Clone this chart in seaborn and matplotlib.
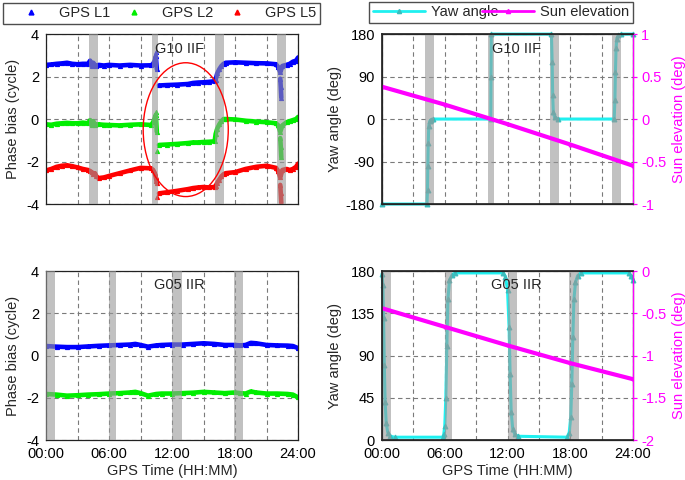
import matplotlib.pyplot as plt
import numpy as np
import pandas as pd
import seaborn as sns
from matplotlib.lines import Line2D
from matplotlib.patches import Ellipse

nan = np.nan

# G10 IIF phase bias (cycle); nan in the time list marks a break between arcs
g10_time = [0, 0.5, 1, 1.5, 2, 2.5, 3, 3.5, 4.0,
            4.2, 4.35, 4.5, 4.65, 4.8,
            5.0, 5.5, 6, 7, 8, 9, 10,
            10.2, 10.35, 10.45, 10.55, nan, 10.5, nan, 10.6, nan,
            10.75, 11.5, 12.5, 13.5, 14, 14.5, 15, 15.5, 16.05,
            16.15, 16.3, 16.5, 16.7, 16.9,
            17.1, 18, 19, 20, 21, 21.9,
            22.1, 22.3, 22.5,
            22.9, 23.2, 23.5, 23.8, 24, nan,
            22.3, 22.35, 22.4]
g10_l1 = [2.55, 2.57, 2.6, 2.62, 2.65, 2.6, 2.58, 2.6, 2.6,
          2.75, 2.5, 2.65, 2.55, 2.5,
          2.55, 2.52, 2.55, 2.52, 2.55, 2.52, 2.53,
          2.6, 2.75, 2.95, 2.35, nan, 3.15, nan, nan, nan,
          1.58, 1.6, 1.62, 1.65, 1.7, 1.72, 1.73, 1.75, 1.78,
          1.85, 2.15, 2.35, 2.5, 2.6,
          2.65, 2.67, 2.65, 2.63, 2.62, 2.58,
          2.45, 2.2, 2.5,
          2.55, 2.6, 2.7, 2.75, 2.9, nan,
          1.9, 1.5, 1.0]
g10_l2 = [-0.25, -0.27, -0.22, -0.2, -0.18, -0.2, -0.2, -0.17, -0.2,
          -0.05, -0.3, -0.1, -0.3, -0.25,
          -0.25, -0.27, -0.28, -0.3, -0.27, -0.25, -0.28,
          -0.15, 0.05, 0.2, -0.6, nan, 0.35, nan, -1.5, nan,
          -1.22, -1.2, -1.17, -1.13, -1.1, -1.1, -1.08, -1.07, -1.05,
          -0.7, -0.45, -0.25, -0.1, 0.0,
          0.0, -0.02, -0.08, -0.12, -0.15, -0.2,
          -0.3, -0.6, -0.3,
          -0.15, -0.1, -0.05, 0.0, 0.1, nan,
          -0.9, -1.3, -1.8]
g10_l5 = [-2.42, -2.35, -2.25, -2.2, -2.18, -2.22, -2.28, -2.35, -2.4,
          -2.45, -2.5, -2.6, -2.55, -2.7,
          -2.78, -2.75, -2.68, -2.55, -2.42, -2.3, -2.32,
          -2.4, -2.55, -2.75, -3.0, nan, -2.9, nan, -3.65, nan,
          -3.5, -3.45, -3.38, -3.3, -3.25, -3.22, -3.2, -3.22, -3.2,
          -3.15, -3.0, -2.85, -2.7, -2.6,
          -2.55, -2.5, -2.35, -2.25, -2.2, -2.3,
          -2.45, -2.75, -2.4,
          -2.35, -2.4, -2.35, -2.25, -2.1, nan,
          -3.1, -3.5, -3.95]

# G05 IIR phase bias (cycle)
g05_time = [0, 1, 2, 3, 4, 5, 6, 7, 8, 8.5, 9, 9.7, 10.5, 11, 12, 13, 14, 15,
            16, 17, 18, 18.5, 19, 19.5, 20, 21, 22, 23, 23.5, 24]
g05_l1 = [0.45, 0.42, 0.4, 0.4, 0.43, 0.46, 0.48, 0.5, 0.52, 0.55,
          0.5, 0.42, 0.48, 0.5, 0.52, 0.52, 0.55, 0.58, 0.55, 0.5,
          0.5, 0.48, 0.5, 0.6, 0.58, 0.5, 0.48, 0.47, 0.45, 0.35]
g05_l2 = [-1.82, -1.85, -1.9, -1.88, -1.85, -1.83, -1.8, -1.78, -1.75, -1.72,
          -1.78, -1.9, -1.82, -1.8, -1.8, -1.78, -1.76, -1.72, -1.75, -1.78,
          -1.75, -1.78, -1.8, -1.7, -1.75, -1.8, -1.8, -1.82, -1.85, -1.98]

# yaw angle (deg)
g10_yaw_time = [0, 4.3, 4.35, 4.38, 4.42, 4.47, 4.55, 4.7, 4.9,
                10.4, 10.42, 10.45, 16.2, 16.27, 16.32, 16.38, 16.5, 16.8,
                22.2, 22.27, 22.32, 22.38, 22.45, 22.6, 22.85, 24]
g10_yaw = [-180, -180, -150, -100, -50, -15, -5, -1, 0,
           0, 90, 180, 180, 120, 50, 15, 4, 0,
           0, 40, 100, 150, 170, 177, 180, 180]
g05_yaw_time = [0, 0.08, 0.15, 0.22, 0.3, 0.4, 0.55, 0.8, 1.2,
                5.8, 5.9, 6.0, 6.1, 6.2, 6.3, 6.45, 6.7, 7.0,
                11.6, 11.8, 12.0, 12.15, 12.25, 12.35, 12.5, 12.7, 13.0,
                17.7, 17.9, 18.05, 18.15, 18.25, 18.35, 18.5, 18.7, 19.0,
                23.6, 23.8, 24]
g05_yaw = [177, 165, 130, 80, 40, 18, 8, 4, 3,
           3, 6, 15, 45, 100, 150, 170, 176, 178,
           178, 174, 160, 120, 70, 30, 12, 6, 4,
           3, 8, 25, 60, 110, 150, 168, 175, 178,
           178, 175, 170]

# sun elevation (deg)
sun_time = [0, 6, 12, 18, 24]
g10_sun = [0.38, 0.17, -0.06, -0.3, -0.55]
g05_sun = [-0.44, -0.66, -0.88, -1.09, -1.28]

# eclipse / turning periods (hours)
g10_shade_start = [4.1, 10.1, 16.1, 22.0]
g10_shade_end = [4.95, 10.7, 16.95, 22.85]
g05_shade_start = [0.0, 6.0, 12.0, 17.9]
g05_shade_end = [0.85, 6.7, 12.9, 18.8]

hour_ticks = list(range(0, 25, 3))
hour_labels = ["00:00", "", "06:00", "", "12:00", "", "18:00", "", "24:00"]
freq_labels = ["GPS L1", "GPS L2", "GPS L5"]
freq_colors = ["#0000ff", "#00ee00", "#ff0000"]
yaw_color = "#1ff0f0"
yaw_marker = "#3cbcbc"
sun_color = "#ff00ff"

sns.set_theme(style="white")
plt.rcParams["font.family"] = ["Liberation Sans", "DejaVu Sans"]
plt.rcParams["axes.unicode_minus"] = False
plt.rcParams["font.size"] = 10


def style_axes(ax, show_xlabels):
    ax.set_xlim(0, 24)
    ax.set_xticks(hour_ticks)
    ax.set_xticklabels(hour_labels if show_xlabels else [])
    ax.grid(True, linestyle=(0, (4, 3)), color="#7a7a7a", linewidth=0.8)
    ax.set_axisbelow(True)
    ax.tick_params(length=0, labelsize=10.5, pad=5, colors="black")
    for spine in ax.spines.values():
        spine.set_color("#222222")
        spine.set_linewidth(0.9)
    if show_xlabels:
        ax.set_xlabel("GPS Time (HH:MM)", fontsize=10.5)
        ax.xaxis.set_label_coords(0.5, -0.14)
    else:
        ax.set_xlabel("")


def shade(ax, starts, ends):
    for s, e in zip(starts, ends):
        ax.axvspan(s, e, color="#999999", alpha=0.6, lw=0, zorder=3)


def phase_panel(ax, time, series, name, show_xlabels):
    df = pd.DataFrame({"t": time})
    df["arc"] = df["t"].isna().cumsum()
    for values, color in zip(series, freq_colors):
        part = df.assign(v=values).dropna()
        sns.lineplot(data=part, x="t", y="v", units="arc", estimator=None,
                     sort=False, ax=ax, color=color, lw=3.3, marker="^",
                     markersize=3, markeredgecolor=color, legend=False, zorder=2)
    ax.set_ylim(-4, 4)
    ax.set_yticks([-4, -2, 0, 2, 4])
    ax.set_ylabel("Phase bias (cycle)", fontsize=10.5)
    ax.yaxis.set_label_coords(-0.103, 0.5)
    ax.text(0.53, 0.915, name, transform=ax.transAxes, ha="center",
            va="center", fontsize=10.5, zorder=5)
    style_axes(ax, show_xlabels)


def yaw_panel(ax, yaw_t, yaw_v, sun_v, name, show_xlabels, ylim, yticks, slim, sticks):
    sns.lineplot(x=yaw_t, y=yaw_v, ax=ax, estimator=None, sort=False,
                 color=yaw_color, lw=2.2, marker="^", markersize=3.5,
                 markerfacecolor=yaw_marker, markeredgecolor=yaw_marker,
                 zorder=2, clip_on=False)
    ax.set_ylim(*ylim)
    ax.set_yticks(yticks)
    ax.set_ylabel("Yaw angle (deg)", fontsize=10.5)
    ax.yaxis.set_label_coords(-0.159, 0.5)
    ax.text(0.535, 0.915, name, transform=ax.transAxes, ha="center",
            va="center", fontsize=10.5, zorder=5)
    style_axes(ax, show_xlabels)

    twin = ax.twinx()
    sns.lineplot(x=sun_time, y=sun_v, ax=twin, estimator=None, color=sun_color,
                 lw=3, marker="^", markersize=2, markeredgecolor=sun_color)
    twin.set_ylim(*slim)
    twin.set_yticks(sticks)
    twin.set_yticklabels([f"{v:g}" for v in sticks])
    twin.grid(False)
    twin.tick_params(axis="y", colors=sun_color, labelsize=10.5, length=3,
                     width=0.9, pad=3, direction="out")
    twin.spines["right"].set_color(sun_color)
    twin.spines["right"].set_linewidth(0.9)
    twin.set_ylabel("Sun elevation (deg)", color=sun_color, fontsize=10.5)
    twin.yaxis.set_label_coords(1.155, 0.5)
    return twin


fig = plt.figure(figsize=(6.85, 4.8), dpi=100)
ax_tl = fig.add_axes([0.0672, 0.575, 0.368, 0.354])
ax_bl = fig.add_axes([0.0672, 0.0833, 0.368, 0.352])
ax_tr = fig.add_axes([0.5577, 0.575, 0.3664, 0.354])
ax_br = fig.add_axes([0.5577, 0.0833, 0.3664, 0.352])

phase_panel(ax_tl, g10_time, [g10_l1, g10_l2, g10_l5], "G10 IIF", False)
shade(ax_tl, g10_shade_start, g10_shade_end)
ax_tl.add_patch(Ellipse((13.3, -0.5), width=8.1, height=6.3, fill=False,
                        edgecolor="#ff0000", lw=1, zorder=4))

phase_panel(ax_bl, g05_time, [g05_l1, g05_l2], "G05 IIR", True)
shade(ax_bl, g05_shade_start, g05_shade_end)

yaw_panel(ax_tr, g10_yaw_time, g10_yaw, g10_sun, "G10 IIF", False,
          (-180, 180), [-180, -90, 0, 90, 180], (-1, 1), [-1, -0.5, 0, 0.5, 1])
shade(ax_tr, g10_shade_start, g10_shade_end)

yaw_panel(ax_br, g05_yaw_time, g05_yaw, g05_sun, "G05 IIR", True,
          (0, 180), [0, 45, 90, 135, 180], (-2, 0), [-2, -1.5, -1, -0.5, 0])
shade(ax_br, g05_shade_start, g05_shade_end)

freq_handles = [Line2D([], [], ls="none", marker="^", markersize=3.5, color=c)
                for c in freq_colors]
leg = ax_tl.legend(freq_handles, freq_labels, ncol=3, mode="expand",
                   loc="lower left", bbox_to_anchor=(-0.171, 1.059, 1.258, 0.11),
                   borderaxespad=0, borderpad=0.25, fontsize=10.5,
                   fancybox=False, edgecolor="#222222", handlelength=3.4,
                   handletextpad=0.2)
leg.get_frame().set_linewidth(1)

yaw_handles = [
    Line2D([], [], color=yaw_color, lw=2, marker="^", markersize=3,
           markerfacecolor=yaw_marker, markeredgecolor=yaw_marker),
    Line2D([], [], color=sun_color, lw=2, marker="^", markersize=3),
]
leg2 = ax_tr.legend(yaw_handles, ["Yaw angle", "Sun elevation"], ncol=2,
                    mode="expand", loc="lower left",
                    bbox_to_anchor=(-0.052, 1.065, 1.052, 0.12),
                    borderaxespad=0, borderpad=0.25, fontsize=10.5,
                    fancybox=False, edgecolor="#222222", handlelength=3.6,
                    handletextpad=0.4, columnspacing=0.8)
leg2.get_frame().set_linewidth(1)

fig.savefig("out.png", dpi=100)
